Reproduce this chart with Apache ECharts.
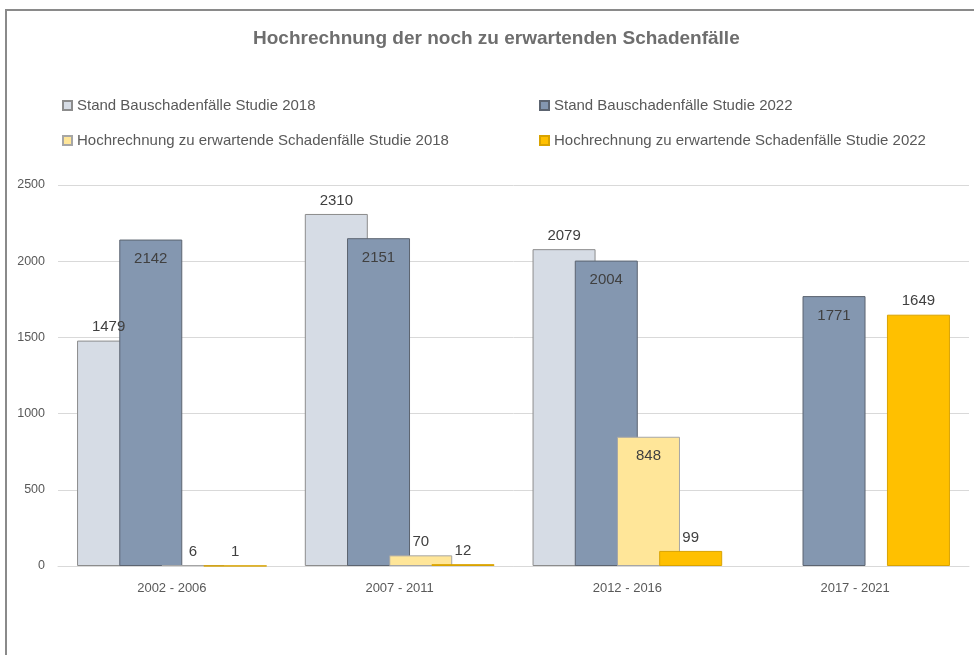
<!DOCTYPE html>
<html>
<head>
<meta charset="utf-8">
<title>Hochrechnung der noch zu erwartenden Schadenfälle</title>
<script src="https://cdn.jsdelivr.net/npm/echarts@6/dist/echarts.min.js"></script>
<style>
  html, body {
    margin: 0;
    padding: 0;
    background: #fff;
  }
  #chart {
    width: 974px;
    height: 655px;
  }
</style>
</head>
<body>
<div id="chart"></div>
<script>
// Zeiträume
var categories = ["2002 - 2006", "2007 - 2011", "2012 - 2016", "2017 - 2021"];
// Stand Bauschadenfälle
var stand2018 = [1479, 2310, 2079, null];
var stand2022 = [2142, 2151, 2004, 1771];
// Hochrechnung zu erwartende Schadenfälle
var hoch2018 = [6, 70, 848, null];
var hoch2022 = [1, 12, 99, 1649];

var seriesNames = [
  "Stand Bauschadenfälle Studie 2018",
  "Stand Bauschadenfälle Studie 2022",
  "Hochrechnung zu erwartende Schadenfälle Studie 2018",
  "Hochrechnung zu erwartende Schadenfälle Studie 2022",
];

var font = "'Liberation Sans', Arial, sans-serif";
var labelStyle = {
  show: true,
  color: "#404040",
  fontSize: 15,
  fontFamily: font,
};

function makeSeries(name, data, color, border, pos) {
  return {
    name: name,
    type: "bar",
    data: data,
    barWidth: 63,
    barGap: "-33%",
    itemStyle: {
      color: color,
      borderColor: border,
      borderWidth: 1,
    },
    label: Object.assign({}, labelStyle, {
      position: pos,
      distance: pos === "insideTop" ? 12 : 6,
    }),
  };
}

// 848 steht in Excel innerhalb des Balkens
var hoch2018Data = hoch2018.map(function (v) {
  if (v === 848) {
    return { value: v, label: { position: "insideTop", distance: 12 } };
  }
  return v;
});

// eine Legende pro Eintrag, damit sie wie in Excel in zwei Spalten stehen
var legendPos = [
  { left: 57, top: 93 },
  { left: 534, top: 93 },
  { left: 57, top: 128 },
  { left: 534, top: 128 },
];
var legends = seriesNames.map(function (n, i) {
  return {
    data: [n],
    left: legendPos[i].left,
    top: legendPos[i].top,
    icon: "rect",
    itemWidth: 9,
    itemHeight: 9,
    itemGap: 5,
    textStyle: {
      color: "#595959",
      fontSize: 15,
      fontFamily: font,
    },
  };
});

var chart = echarts.init(document.getElementById("chart"));
chart.setOption({
  animation: false,
  title: {
    text: "Hochrechnung der noch zu erwartenden Schadenfälle",
    left: 248,
    top: 24,
    textStyle: {
      color: "#6e6e6e",
      fontSize: 19,
      fontWeight: "bold",
      fontFamily: font,
    },
  },
  legend: legends,
  graphic: [
    {
      type: "rect",
      shape: { x: 6, y: 10, width: 1000, height: 700 },
      style: { fill: "none", stroke: "#8a8a8a", lineWidth: 2 },
      silent: true,
    },
  ],
  grid: {
    left: 58,
    right: 5,
    top: 185,
    bottom: 89,
  },
  xAxis: {
    type: "category",
    data: categories,
    axisTick: { show: false },
    axisLine: { lineStyle: { color: "#d9d9d9", width: 1 } },
    axisLabel: {
      color: "#595959",
      fontSize: 13,
      fontFamily: font,
      margin: 16,
    },
  },
  yAxis: {
    type: "value",
    min: 0,
    max: 2500,
    interval: 500,
    axisLine: { show: false },
    axisTick: { show: false },
    splitLine: { lineStyle: { color: "#d9d9d9", width: 1 } },
    axisLabel: {
      color: "#595959",
      fontSize: 12.5,
      fontFamily: font,
      margin: 13,
      formatter: function (v) {
        return String(v);
      },
    },
  },
  series: [
    makeSeries(seriesNames[0], stand2018, "#d6dce5", "#8c8c8c", "top"),
    makeSeries(seriesNames[1], stand2022, "#8497b0", "#5c6470", "insideTop"),
    makeSeries(seriesNames[2], hoch2018Data, "#ffe699", "#a6a6a6", "top"),
    makeSeries(seriesNames[3], hoch2022, "#ffc000", "#d9a300", "top"),
  ],
});
</script>
</body>
</html>
